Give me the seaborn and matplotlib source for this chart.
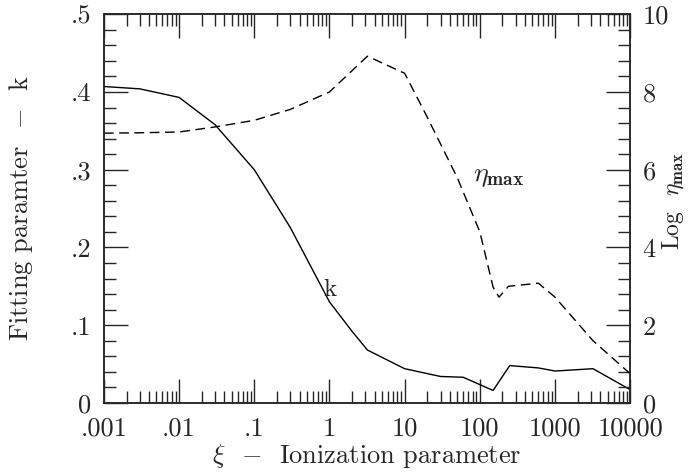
import numpy as np
import pandas as pd
import matplotlib
matplotlib.use("Agg")
import matplotlib.pyplot as plt
import matplotlib.ticker as mticker
import seaborn as sns

# values
xi_k = [0.001, 0.003, 0.01, 0.03, 0.1, 0.3, 1, 2, 3.2, 10, 30, 60, 150, 250, 600, 1000, 3200, 10000]
k_vals = [0.407, 0.404, 0.393, 0.358, 0.300, 0.226, 0.130, 0.092, 0.068, 0.044, 0.034, 0.033,
          0.016, 0.048, 0.045, 0.041, 0.044, 0.017]

xi_eta = [0.001, 0.003, 0.01, 0.03, 0.1, 0.3, 1, 3.2, 10, 20, 50, 100, 150, 180, 240, 600, 1000, 3200, 10000]
eta_vals = [6.94, 6.95, 6.97, 7.10, 7.27, 7.55, 8.0, 8.92, 8.48, 7.35, 5.8, 4.4, 2.98, 2.72,
            3.0, 3.08, 2.72, 1.6, 0.75]

x_ticks = [0.001, 0.01, 0.1, 1, 10, 100, 1000, 10000]
x_labels = ['.001', '.01', '.1', '1', '10', '100', '1000', '10000']
k_ticks = [0, 0.1, 0.2, 0.3, 0.4, 0.5]
k_labels = ['0', '.1', '.2', '.3', '.4', '.5']
eta_ticks = [0, 2, 4, 6, 8, 10]
eta_labels = ['0', '2', '4', '6', '8', '10']

df_k = pd.DataFrame({'xi': xi_k, 'k': k_vals})
df_eta = pd.DataFrame({'xi': xi_eta, 'eta': eta_vals})

sns.set_style("ticks")
plt.rcParams['font.family'] = ['cmr10', 'DejaVu Serif']
plt.rcParams['mathtext.fontset'] = 'cm'
plt.rcParams['axes.unicode_minus'] = False
plt.rcParams['axes.formatter.use_mathtext'] = True

fig = plt.figure(figsize=(6.88, 4.74), dpi=100)
ax = fig.add_axes([0.151, 0.150, 0.765, 0.820])
ax2 = ax.twinx()

sns.lineplot(data=df_k, x='xi', y='k', ax=ax, color='black', lw=1.0)
sns.lineplot(data=df_eta, x='xi', y='eta', ax=ax2, color='black', lw=1.0, linestyle=(0, (7, 4)))

ax.set_xscale('log')
ax.set_xlim(0.001, 10000)
ax.set_ylim(0, 0.5)
ax2.set_ylim(0, 10)

ax.set_xticks(x_ticks)
ax.set_xticklabels(x_labels)
ax.xaxis.set_minor_locator(mticker.LogLocator(base=10, subs=np.arange(2, 10), numticks=20))
ax.xaxis.set_minor_formatter(mticker.NullFormatter())
ax.set_yticks(k_ticks)
ax.set_yticklabels(k_labels)
ax.yaxis.set_minor_locator(mticker.MultipleLocator(0.02))
ax2.set_yticks(eta_ticks)
ax2.set_yticklabels(eta_labels)
ax2.yaxis.set_minor_locator(mticker.MultipleLocator(0.4))

ax.tick_params(which='major', direction='in', length=17, width=1.0, labelsize=19,
               top=True, right=False, pad=10)
ax.tick_params(which='minor', direction='in', length=8.5, width=1.0, top=True, right=False)
ax.tick_params(axis='y', which='major', pad=9)
ax2.tick_params(which='major', direction='in', length=17, width=1.0, labelsize=19, pad=9)
ax2.tick_params(which='minor', direction='in', length=8.5, width=1.0)

for a in (ax, ax2):
    for s in a.spines.values():
        s.set_linewidth(1.1)
        s.set_visible(True)

ax.set_xlabel(r'$\xi$  $-$  Ionization parameter', fontsize=19)
ax.set_ylabel(r'Fitting paramter  $-$  k', fontsize=19)
ax2.set_ylabel(r'Log  $\eta_{\mathbf{max}}$', fontsize=17)
ax.xaxis.set_label_coords(0.5, -0.10)
ax.yaxis.set_label_coords(-0.131, 0.5)
ax2.yaxis.set_label_coords(1.058, 0.52)

ax.text(1.02, 0.145, 'k', fontsize=18, ha='center', va='center')
ax2.text(80, 5.84, r'$\eta_{\mathbf{max}}$', fontsize=20, ha='left', va='center')

fig.savefig('out.png', dpi=100)
